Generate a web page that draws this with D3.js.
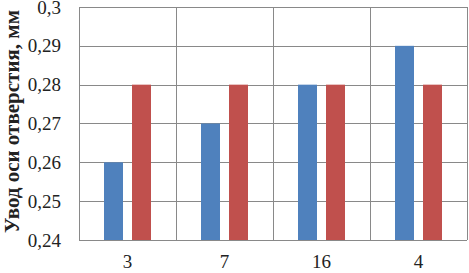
<!DOCTYPE html>
<html>
<head>
<meta charset="utf-8">
<script src="https://cdn.jsdelivr.net/npm/d3@7"></script>
<style>
  body { margin: 0; background: #fff; }
  svg { display: block; font-family: "Liberation Serif", "Times New Roman", serif; }
</style>
</head>
<body>
<svg width="469" height="273"></svg>
<script>
// Chart data
const categories = ['3', '7', '16', '4'];
const seriesBlue = [0.26, 0.27, 0.28, 0.29];
const seriesRed = [0.28, 0.28, 0.28, 0.28];
const yTicks = [0.24, 0.25, 0.26, 0.27, 0.28, 0.29, 0.3];
const yTitle = 'Увод оси отверстия, мм';

const svg = d3.select('svg');
const margin = { top: 7, right: 2, bottom: 33, left: 79 };
const width = 469 - margin.left - margin.right;
const height = 273 - margin.top - margin.bottom;

const g = svg.append('g')
  .attr('transform', 'translate(' + margin.left + ',' + margin.top + ')');

const x = d3.scaleBand().domain(categories).range([0, width]);
const y = d3.scaleLinear().domain([0.24, 0.3]).range([height, 0]);

// Horizontal grid
g.selectAll('.hgrid')
  .data(yTicks)
  .enter()
  .append('line')
  .attr('x1', 0)
  .attr('x2', width)
  .attr('y1', (d) => Math.round(y(d)) + 0.5)
  .attr('y2', (d) => Math.round(y(d)) + 0.5)
  .attr('stroke', '#898989')
  .attr('stroke-width', 1);

// Vertical grid (category boundaries)
const bounds = categories.map((c) => x(c)).concat([width]);
g.selectAll('.vgrid')
  .data(bounds)
  .enter()
  .append('line')
  .attr('x1', (d) => Math.round(d) + 0.5)
  .attr('x2', (d) => Math.round(d) + 0.5)
  .attr('y1', 0)
  .attr('y2', height)
  .attr('stroke', '#898989')
  .attr('stroke-width', 1);

// Bars
const barW = 19;
const gap = 9;
const rows = categories.map((c, i) => ({ cat: c, blue: seriesBlue[i], red: seriesRed[i] }));

g.selectAll('.bar-blue')
  .data(rows)
  .enter()
  .append('rect')
  .attr('x', (d) => x(d.cat) + x.bandwidth() / 2 - gap / 2 - barW)
  .attr('y', (d) => y(d.blue))
  .attr('width', barW)
  .attr('height', (d) => height - y(d.blue))
  .attr('fill', '#4F81BD');

g.selectAll('.bar-red')
  .data(rows)
  .enter()
  .append('rect')
  .attr('x', (d) => x(d.cat) + x.bandwidth() / 2 + gap / 2)
  .attr('y', (d) => y(d.red))
  .attr('width', barW)
  .attr('height', (d) => height - y(d.red))
  .attr('fill', '#C0504D');

// Y axis labels
const fmt = (d) => String(+d.toFixed(2)).replace('.', ',');
g.selectAll('.ylab')
  .data(yTicks)
  .enter()
  .append('text')
  .attr('x', -18)
  .attr('y', (d) => y(d))
  .attr('dy', '0.35em')
  .attr('text-anchor', 'end')
  .attr('font-size', 19)
  .attr('fill', '#222')
  .text(fmt);

// X axis labels
g.selectAll('.xlab')
  .data(categories)
  .enter()
  .append('text')
  .attr('x', (d) => x(d) + x.bandwidth() / 2)
  .attr('y', height + 28)
  .attr('text-anchor', 'middle')
  .attr('font-size', 19)
  .attr('fill', '#222')
  .text((d) => d);

// Y title
svg.append('text')
  .attr('transform', 'translate(12,' + (margin.top + height / 2 - 2) + ') rotate(-90)')
  .attr('dy', '0.35em')
  .attr('text-anchor', 'middle')
  .attr('font-size', 21)
  .attr('font-weight', 'bold')
  .attr('fill', '#222')
  .text(yTitle);
</script>
</body>
</html>
